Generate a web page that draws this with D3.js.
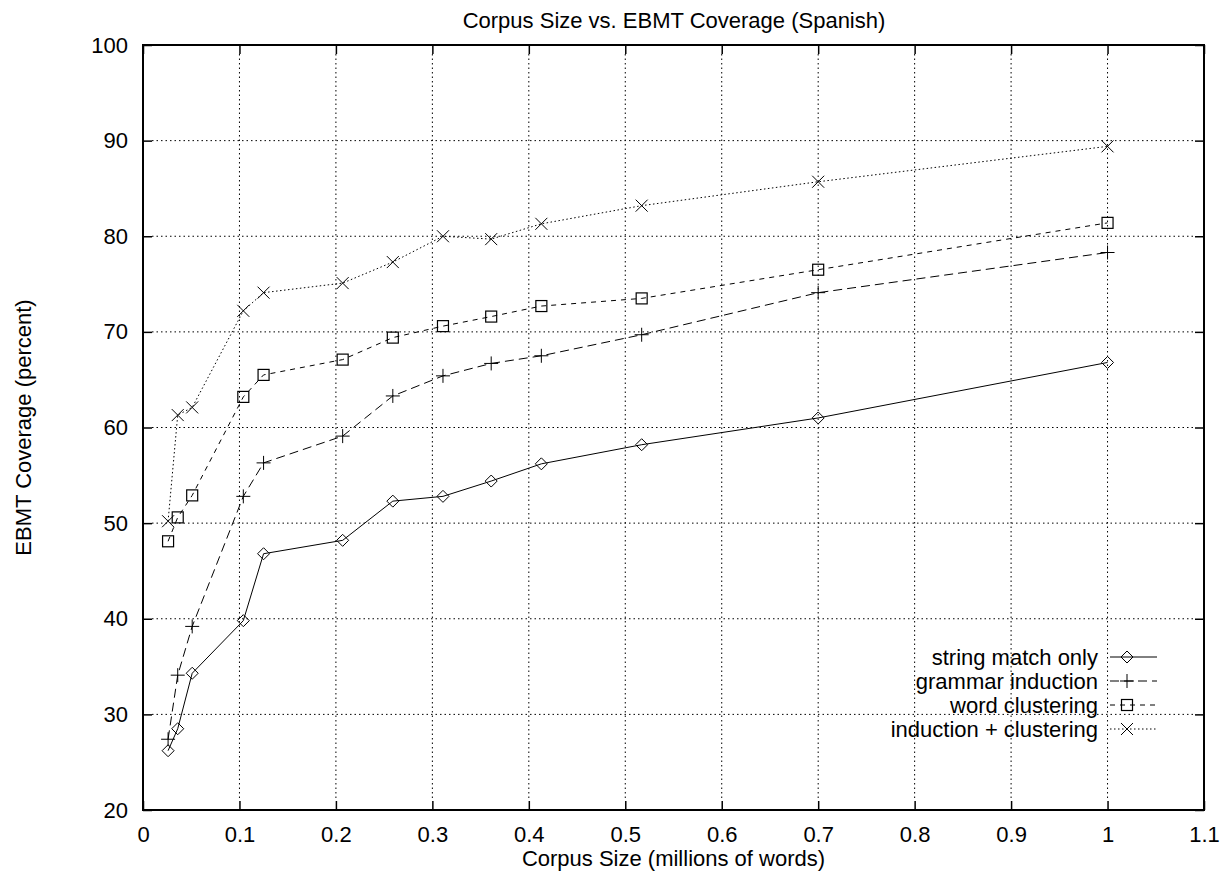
<!DOCTYPE html>
<html>
<head>
<meta charset="utf-8">
<script src="https://cdn.jsdelivr.net/npm/d3@7"></script>
<style>
  body { margin: 0; background: #fff; }
  text { font-family: "Liberation Sans", Arial, sans-serif; fill: #000; }
</style>
</head>
<body>
<script>
// corpus sizes (millions of words)
var corpusSize = [0.026, 0.036, 0.051, 0.104, 0.125, 0.207, 0.259, 0.311, 0.361, 0.413, 0.517, 0.7, 1.0];

var stringMatch  = [26.2, 28.5, 34.3, 39.8, 46.8, 48.2, 52.3, 52.8, 54.4, 56.2, 58.2, 61.0, 66.8];
var grammarInd   = [27.4, 34.1, 39.2, 52.8, 56.3, 59.1, 63.3, 65.4, 66.7, 67.5, 69.7, 74.1, 78.3];
var wordCluster  = [48.1, 50.6, 52.9, 63.2, 65.5, 67.1, 69.4, 70.6, 71.6, 72.7, 73.5, 76.5, 81.4];
var indCluster   = [50.2, 61.3, 62.1, 72.2, 74.1, 75.1, 77.3, 80.0, 79.7, 81.3, 83.2, 85.7, 89.4];

var seriesNames = ["string match only", "grammar induction", "word clustering", "induction + clustering"];
var xTicks = [0, 0.1, 0.2, 0.3, 0.4, 0.5, 0.6, 0.7, 0.8, 0.9, 1, 1.1];
var yTicks = [20, 30, 40, 50, 60, 70, 80, 90, 100];

var width = 1223, height = 873;
var margin = {top: 45, right: 19, bottom: 63, left: 143};
var plotW = width - margin.left - margin.right;
var plotH = height - margin.top - margin.bottom;
var fontSize = "22px";

var svg = d3.select("body").append("svg")
    .attr("width", width)
    .attr("height", height);

var xScale = d3.scaleLinear().domain([0, 1.1]).range([0, plotW]);
var yScale = d3.scaleLinear().domain([20, 100]).range([plotH, 0]);

var canvas = svg.append("g")
    .attr("transform", "translate(" + margin.left + "," + margin.top + ")");

// grid
var tickLen = 9;
canvas.append("g").selectAll("line")
    .data(xTicks.slice(1, -1)).enter().append("line")
    .attr("x1", function(d) { return xScale(d); })
    .attr("x2", function(d) { return xScale(d); })
    .attr("y1", tickLen).attr("y2", plotH - tickLen)
    .attr("stroke", "#000").attr("stroke-width", 1)
    .attr("stroke-dasharray", "1.5,3");
canvas.append("g").selectAll("line")
    .data(yTicks.slice(1, -1)).enter().append("line")
    .attr("y1", function(d) { return yScale(d); })
    .attr("y2", function(d) { return yScale(d); })
    .attr("x1", tickLen).attr("x2", plotW - tickLen)
    .attr("stroke", "#000").attr("stroke-width", 1)
    .attr("stroke-dasharray", "1.5,3");

// axes with inward ticks, mirrored
var fmt = function(d) { return d3.format("")(d); };
var xb = canvas.append("g").attr("transform", "translate(0," + plotH + ")")
    .call(d3.axisBottom(xScale).tickValues(xTicks).tickSize(-tickLen).tickPadding(16).tickFormat(fmt));
var xt = canvas.append("g")
    .call(d3.axisTop(xScale).tickValues(xTicks).tickSize(-tickLen).tickFormat(""));
var yl = canvas.append("g")
    .call(d3.axisLeft(yScale).tickValues(yTicks).tickSize(-tickLen).tickPadding(15));
var yr = canvas.append("g").attr("transform", "translate(" + plotW + ",0)")
    .call(d3.axisRight(yScale).tickValues(yTicks).tickSize(-tickLen).tickFormat(""));

[xb, xt, yl, yr].forEach(function(a) {
  a.select(".domain").remove();
  a.selectAll("line").attr("stroke", "#000").attr("stroke-width", 1.5);
  a.selectAll("text").style("font-size", fontSize).attr("font-family", null);
});

canvas.append("rect")
    .attr("width", plotW).attr("height", plotH)
    .attr("fill", "none").attr("stroke", "#000").attr("stroke-width", 2);

// labels
svg.append("text").attr("x", 674).attr("y", 28)
    .attr("text-anchor", "middle").style("font-size", fontSize)
    .text("Corpus Size vs. EBMT Coverage (Spanish)");
svg.append("text").attr("x", margin.left + plotW / 2).attr("y", 866)
    .attr("text-anchor", "middle").style("font-size", fontSize)
    .text("Corpus Size (millions of words)");
svg.append("text")
    .attr("transform", "translate(31," + (margin.top + plotH / 2) + ") rotate(-90)")
    .attr("text-anchor", "middle").style("font-size", fontSize)
    .text("EBMT Coverage (percent)");

// series
var allSeries = [stringMatch, grammarInd, wordCluster, indCluster];
var dashes = [null, "9,5", "5,5", "1.5,2.5"];
var markerFns = [
  function(g) { // diamond
    g.append("path").attr("d", "M0,-6L6,0L0,6L-6,0Z").attr("fill", "none").attr("stroke", "#000").attr("stroke-width", 1);
  },
  function(g) { // plus
    g.append("path").attr("d", "M-7,0H7M0,-7V7").attr("stroke", "#000").attr("stroke-width", 1);
  },
  function(g) { // square
    g.append("rect").attr("x", -5.5).attr("y", -5.5).attr("width", 11).attr("height", 11)
      .attr("fill", "none").attr("stroke", "#000").attr("stroke-width", 1.2);
  },
  function(g) { // cross
    g.append("path").attr("d", "M-6,-6L6,6M-6,6L6,-6").attr("stroke", "#000").attr("stroke-width", 1);
  }
];

var line = d3.line()
    .x(function(d, i) { return xScale(corpusSize[i]); })
    .y(function(d) { return yScale(d); });

allSeries.forEach(function(vals, k) {
  canvas.append("path").datum(vals)
      .attr("d", line)
      .attr("fill", "none").attr("stroke", "#000").attr("stroke-width", 1)
      .attr("stroke-dasharray", dashes[k]);
  canvas.selectAll(".m" + k).data(vals).enter().append("g")
      .attr("class", "m" + k)
      .attr("transform", function(d, i) {
        return "translate(" + xScale(corpusSize[i]) + "," + yScale(d) + ")"; })
      .each(function() { markerFns[k](d3.select(this)); });
});

// legend
var legend = svg.append("g");
seriesNames.forEach(function(name, k) {
  var cy = 657 + k * 24;
  legend.append("text").attr("x", 1098).attr("y", cy + 8)
      .attr("text-anchor", "end").style("font-size", fontSize).text(name);
  legend.append("line").attr("x1", 1110).attr("x2", 1157)
      .attr("y1", cy).attr("y2", cy)
      .attr("stroke", "#000").attr("stroke-width", 1)
      .attr("stroke-dasharray", dashes[k]);
  var m = legend.append("g").attr("transform", "translate(1127," + cy + ")");
  markerFns[k](m);
});
</script>
</body>
</html>
